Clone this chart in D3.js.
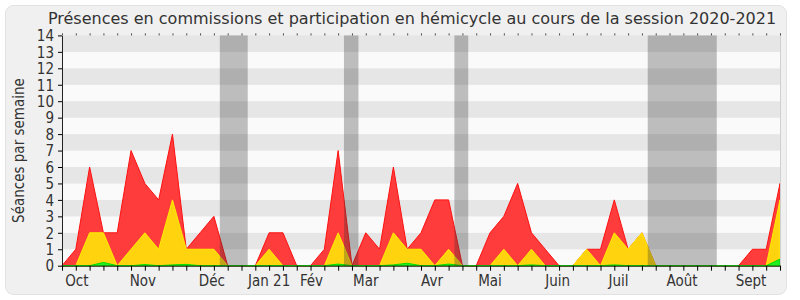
<!DOCTYPE html>
<html lang="fr">
<head>
<meta charset="UTF-8">
<title>Présences</title>
<script src="https://cdnjs.cloudflare.com/ajax/libs/d3/7.8.5/d3.min.js"></script>
<style>
  body { margin: 0; background: #fff; }
  svg text { font-family: "DejaVu Sans", sans-serif; fill: #333; }
  .cond { font-family: "DejaVu Sans Condensed", "DejaVu Sans", sans-serif; font-stretch: condensed; }
</style>
</head>
<body>
<svg id="chart" width="800" height="300"></svg>
<script>
// weekly values, week 0 = end of Sept 2020
const presences  = [0,1,6,2,2,7,5,4,8,1,2,3,0, 0,0,2,2,0,0,1,7,0,2,1,6,1, 2,4,4,0,0,2,3,5,2,1,0,0,1, 1,4,1,2,0,0,0,0,0,0,0,1,1,5];
const hemicycle  = [0,0,2,2,0,1,2,1,4,1,1,1,0, 0,0,1,0,0,0,0,2,0,0,0,2,1, 1,0,1,0,0,0,1,0,1,0,0,0,1, 0,2,1,2,0,0,0,0,0,0,0,0,0,4];
const questions  = [0,0,0,0.2,0,0,0.07,0,0.05,0.08,0,0,0, 0,0,0,0,0,0,0,0.1,0,0,0,0.05,0.15, 0,0,0.1,0,0,0,0,0,0.05,0,0,0,0, 0,0.05,0,0,0,0,0,0,0,0,0,0,0,0.4];
const vacances   = [[11.43, 13.45], [20.42, 21.47], [28.42, 29.42], [42.42, 47.42]];
const monthNames = ["Oct", "Nov", "Déc", "Jan 21", "Fév", "Mar", "Avr", "Mai", "Juin", "Juil", "Août", "Sept"];
const monthPos   = [1.08, 5.86, 10.85, 15, 18.07, 22, 26.8, 31.0, 35.9, 40.3, 44.9, 49.9];
const yTicks     = d3.range(0, 15);

const svg = d3.select("#chart");
const margin = {top: 35.4, left: 62, right: 20, bottom: 34.3};
const W = 800, H = 300;

// outer frame
svg.append("rect")
    .attr("x", 5.5).attr("y", 5.5)
    .attr("width", 781).attr("height", 289)
    .attr("rx", 8)
    .attr("fill", "#f0f0f0")
    .attr("stroke", "#e2e2e2");

const x = d3.scaleLinear().domain([0, presences.length - 1]).range([margin.left, W - margin.right]);
const y = d3.scaleLinear().domain([0, 14]).range([H - margin.bottom, margin.top]);

// stripes
svg.append("g").selectAll("rect")
    .data(yTicks.slice(0, -1))
    .join("rect")
    .attr("x", x(0))
    .attr("width", x(presences.length - 1) - x(0))
    .attr("y", d => y(d + 1))
    .attr("height", d => y(d) - y(d + 1))
    .attr("fill", d => d % 2 ? "#e6e6e6" : "#fafafa");

// areas
function area(vals) {
    return d3.area()
        .x((d, i) => x(i))
        .y0(y(0))
        .y1(d => y(d))(vals);
}
svg.append("path").attr("d", area(presences))
    .attr("fill", "#ff3c3c").attr("stroke", "#ff1010").attr("stroke-width", 1);
svg.append("path").attr("d", area(hemicycle))
    .attr("fill", "#ffd40f").attr("stroke", "#ffee00").attr("stroke-width", 1);
svg.append("path").attr("d", area(questions))
    .attr("fill", "#22ee22").attr("stroke", "#00dd00").attr("stroke-width", 1);

// holidays
svg.append("g").selectAll("rect")
    .data(vacances)
    .join("rect")
    .attr("x", d => x(d[0]))
    .attr("width", d => x(d[1]) - x(d[0]))
    .attr("y", y(14))
    .attr("height", y(0) - y(14))
    .attr("fill", "rgba(50,50,50,0.3)");

// right border of plot
svg.append("line")
    .attr("x1", x(52) + 0.5).attr("x2", x(52) + 0.5)
    .attr("y1", y(14)).attr("y2", y(0))
    .attr("stroke", "#cfcfcf");

// y axis
const yAxis = svg.append("g")
    .attr("transform", `translate(${x(0)},0)`)
    .call(d3.axisLeft(y).tickValues(yTicks).tickSize(4).tickSizeOuter(0));
yAxis.selectAll("text").attr("class", "cond").style("font-size", "15px").attr("dx", "-1").attr("dy", "0.35em");
yAxis.select(".domain").attr("stroke", "#222");

// bottom axis: weekly ticks
const xAxis = svg.append("g")
    .attr("transform", `translate(0,${y(0)})`)
    .call(d3.axisBottom(x).tickValues(d3.range(presences.length)).tickSize(5).tickFormat("").tickSizeOuter(0));
xAxis.select(".domain").attr("stroke", "#222");

// top axis: tiny weekly ticks
svg.append("g")
    .attr("transform", `translate(0,${y(14)})`)
    .call(d3.axisTop(x).tickValues(d3.range(presences.length)).tickSize(2).tickFormat("").tickSizeOuter(0))
    .call(g => g.select(".domain").remove())
    .selectAll("line").attr("stroke", "#444");

// month labels
svg.append("g").selectAll("text")
    .data(monthNames)
    .join("text")
    .attr("class", "cond")
    .attr("x", (d, i) => x(monthPos[i]))
    .attr("y", y(0) + 20)
    .attr("text-anchor", "middle")
    .style("font-size", "15px")
    .text(d => d);

// y label
svg.append("text")
    .attr("class", "cond")
    .attr("transform", `translate(24,${(y(0) + y(14)) / 2}) rotate(-90)`)
    .attr("text-anchor", "middle")
    .style("font-size", "15px")
    .text("Séances par semaine");

// title
svg.append("text")
    .attr("x", 412)
    .attr("y", 24)
    .attr("text-anchor", "middle")
    .style("font-size", "16px")
    .text("Présences en commissions et participation en hémicycle au cours de la session 2020-2021");
</script>
</body>
</html>
